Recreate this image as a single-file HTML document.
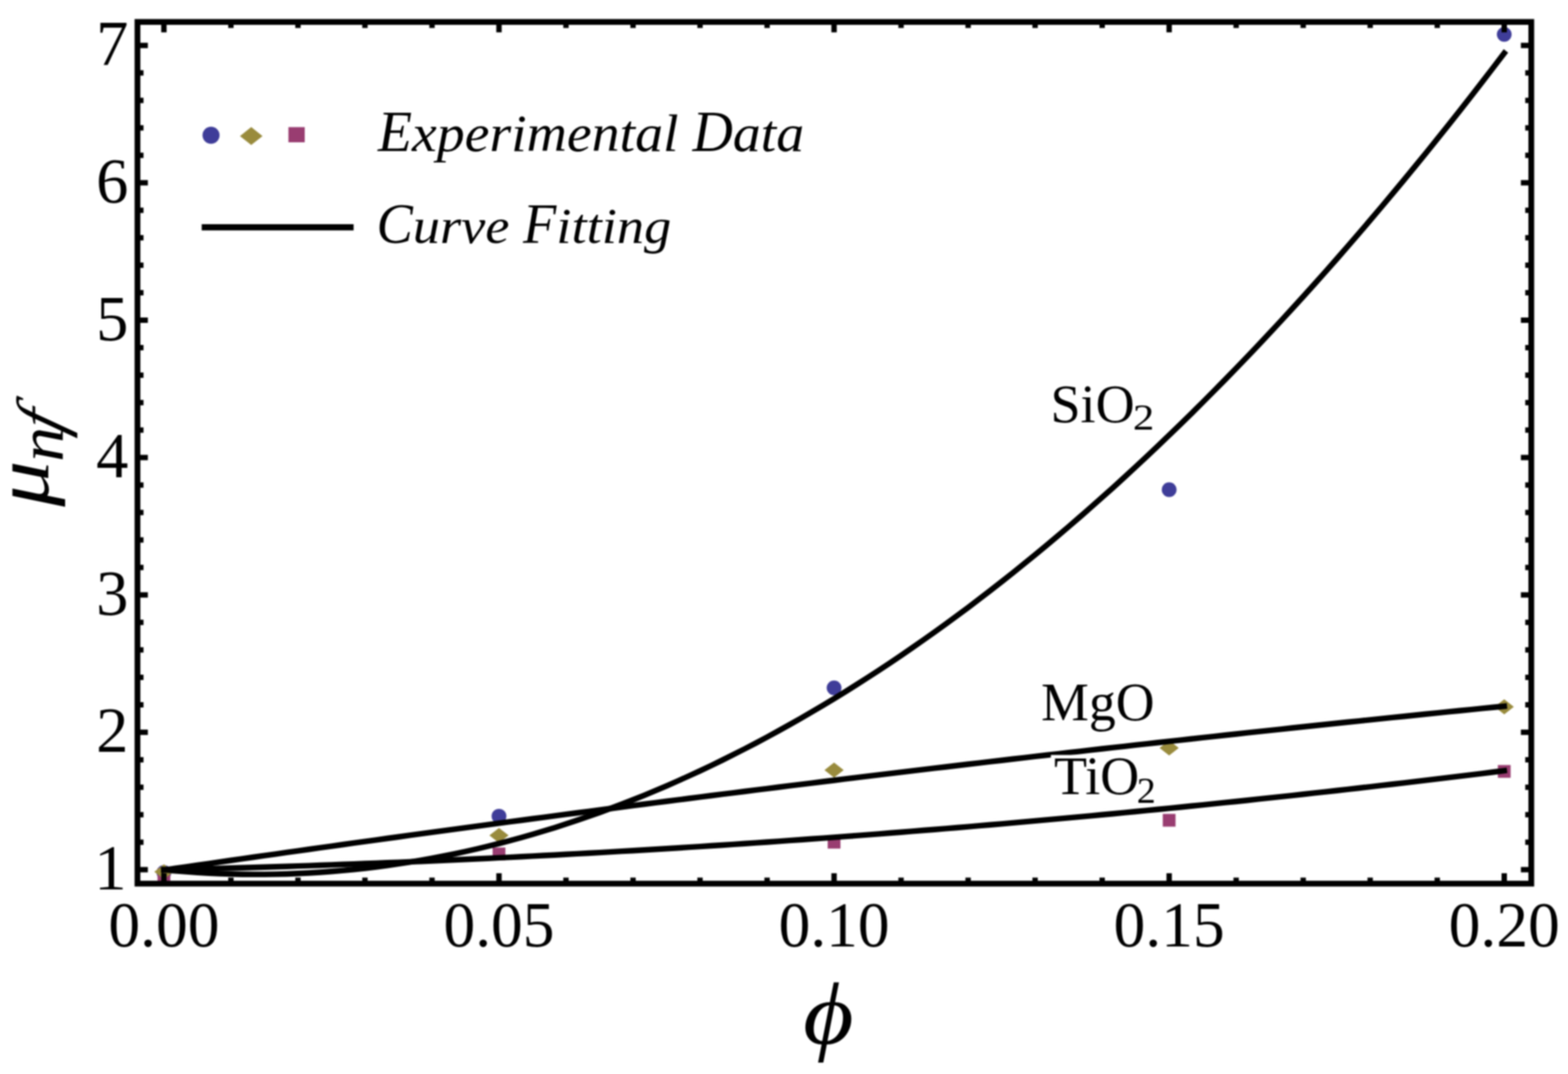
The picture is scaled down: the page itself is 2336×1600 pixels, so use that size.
<!DOCTYPE html><html><head><meta charset="utf-8"><title>Viscosity plot</title><style>html,body{margin:0;padding:0;background:#fff;}svg{display:block;filter:blur(1px);}</style></head><body>
<svg width="2336" height="1600" viewBox="0 0 2336 1600">
<rect width="2336" height="1600" fill="#fff"/>
<g>
<circle cx="244.2" cy="1299.7" r="11" fill="#3f3d99"/>
<circle cx="743.4" cy="1215.9" r="11" fill="#3f3d99"/>
<circle cx="1242.6" cy="1024.7" r="11" fill="#3f3d99"/>
<circle cx="1741.8" cy="729.5" r="11" fill="#3f3d99"/>
<circle cx="2241.0" cy="51.3" r="11" fill="#3f3d99"/>
<rect x="234.7" y="1293.5" width="19" height="19" fill="#993d71"/>
<rect x="733.9" y="1262.6" width="19" height="19" fill="#993d71"/>
<rect x="1233.1" y="1245.2" width="19" height="19" fill="#993d71"/>
<rect x="1732.3" y="1212.5" width="19" height="19" fill="#993d71"/>
<rect x="2231.5" y="1139.7" width="19" height="19" fill="#993d71"/>
<polygon points="229.9,1298.7 244.2,1287.5 258.5,1298.7 244.2,1309.9" fill="#998b3d"/>
<polygon points="729.1,1244.6 743.4,1233.4 757.7,1244.6 743.4,1255.8" fill="#998b3d"/>
<polygon points="1228.3,1147.2 1242.6,1136.0 1256.9,1147.2 1242.6,1158.4" fill="#998b3d"/>
<polygon points="1727.5,1114.3 1741.8,1103.1 1756.1,1114.3 1741.8,1125.5" fill="#998b3d"/>
<polygon points="2226.7,1053 2241.0,1041.8 2255.3,1053 2241.0,1064.2" fill="#998b3d"/>
</g>
<g fill="none" stroke="#000" stroke-width="8.4" stroke-linejoin="round" stroke-linecap="square">
<polyline points="244.20,1295.76 260.84,1295.37 277.48,1294.97 294.12,1294.55 310.76,1294.11 327.40,1293.67 344.04,1293.21 360.68,1292.73 377.32,1292.24 393.96,1291.74 410.60,1291.22 427.24,1290.69 443.88,1290.14 460.52,1289.58 477.16,1289.01 493.80,1288.42 510.44,1287.82 527.08,1287.20 543.72,1286.57 560.36,1285.92 577.00,1285.26 593.64,1284.59 610.28,1283.90 626.92,1283.20 643.56,1282.49 660.20,1281.76 676.84,1281.01 693.48,1280.26 710.12,1279.49 726.76,1278.70 743.40,1277.90 760.04,1277.09 776.68,1276.26 793.32,1275.42 809.96,1274.56 826.60,1273.69 843.24,1272.81 859.88,1271.91 876.52,1270.99 893.16,1270.07 909.80,1269.13 926.44,1268.17 943.08,1267.20 959.72,1266.22 976.36,1265.22 993.00,1264.21 1009.64,1263.19 1026.28,1262.15 1042.92,1261.09 1059.56,1260.03 1076.20,1258.94 1092.84,1257.85 1109.48,1256.74 1126.12,1255.61 1142.76,1254.48 1159.40,1253.32 1176.04,1252.16 1192.68,1250.98 1209.32,1249.78 1225.96,1248.57 1242.60,1247.35 1259.24,1246.11 1275.88,1244.86 1292.52,1243.60 1309.16,1242.32 1325.80,1241.03 1342.44,1239.72 1359.08,1238.40 1375.72,1237.06 1392.36,1235.71 1409.00,1234.35 1425.64,1232.97 1442.28,1231.58 1458.92,1230.17 1475.56,1228.75 1492.20,1227.32 1508.84,1225.87 1525.48,1224.41 1542.12,1222.93 1558.76,1221.44 1575.40,1219.94 1592.04,1218.42 1608.68,1216.89 1625.32,1215.34 1641.96,1213.78 1658.60,1212.20 1675.24,1210.61 1691.88,1209.01 1708.52,1207.39 1725.16,1205.76 1741.80,1204.12 1758.44,1202.46 1775.08,1200.78 1791.72,1199.09 1808.36,1197.39 1825.00,1195.68 1841.64,1193.95 1858.28,1192.20 1874.92,1190.44 1891.56,1188.67 1908.20,1186.89 1924.84,1185.08 1941.48,1183.27 1958.12,1181.44 1974.76,1179.60 1991.40,1177.74 2008.04,1175.87 2024.68,1173.99 2041.32,1172.09 2057.96,1170.17 2074.60,1168.25 2091.24,1166.30 2107.88,1164.35 2124.52,1162.38 2141.16,1160.39 2157.80,1158.40 2174.44,1156.38 2191.08,1154.36 2207.72,1152.32 2224.36,1150.26 2241.00,1148.20"/>
<polyline points="244.20,1296.19 260.84,1293.77 277.48,1291.36 294.12,1288.95 310.76,1286.55 327.40,1284.16 344.04,1281.77 360.68,1279.39 377.32,1277.02 393.96,1274.65 410.60,1272.29 427.24,1269.93 443.88,1267.58 460.52,1265.24 477.16,1262.90 493.80,1260.58 510.44,1258.25 527.08,1255.94 543.72,1253.63 560.36,1251.32 577.00,1249.03 593.64,1246.74 610.28,1244.45 626.92,1242.18 643.56,1239.91 660.20,1237.64 676.84,1235.38 693.48,1233.13 710.12,1230.89 726.76,1228.65 743.40,1226.42 760.04,1224.19 776.68,1221.97 793.32,1219.76 809.96,1217.56 826.60,1215.36 843.24,1213.16 859.88,1210.98 876.52,1208.80 893.16,1206.62 909.80,1204.46 926.44,1202.30 943.08,1200.14 959.72,1198.00 976.36,1195.85 993.00,1193.72 1009.64,1191.59 1026.28,1189.47 1042.92,1187.36 1059.56,1185.25 1076.20,1183.15 1092.84,1181.05 1109.48,1178.96 1126.12,1176.88 1142.76,1174.80 1159.40,1172.73 1176.04,1170.67 1192.68,1168.61 1209.32,1166.56 1225.96,1164.52 1242.60,1162.48 1259.24,1160.45 1275.88,1158.43 1292.52,1156.41 1309.16,1154.40 1325.80,1152.39 1342.44,1150.40 1359.08,1148.40 1375.72,1146.42 1392.36,1144.44 1409.00,1142.47 1425.64,1140.50 1442.28,1138.54 1458.92,1136.59 1475.56,1134.65 1492.20,1132.71 1508.84,1130.77 1525.48,1128.85 1542.12,1126.93 1558.76,1125.01 1575.40,1123.10 1592.04,1121.20 1608.68,1119.31 1625.32,1117.42 1641.96,1115.54 1658.60,1113.66 1675.24,1111.80 1691.88,1109.93 1708.52,1108.08 1725.16,1106.23 1741.80,1104.39 1758.44,1102.55 1775.08,1100.72 1791.72,1098.90 1808.36,1097.08 1825.00,1095.27 1841.64,1093.47 1858.28,1091.67 1874.92,1089.88 1891.56,1088.10 1908.20,1086.32 1924.84,1084.55 1941.48,1082.79 1958.12,1081.03 1974.76,1079.28 1991.40,1077.53 2008.04,1075.79 2024.68,1074.06 2041.32,1072.33 2057.96,1070.62 2074.60,1068.90 2091.24,1067.20 2107.88,1065.50 2124.52,1063.80 2141.16,1062.12 2157.80,1060.44 2174.44,1058.76 2191.08,1057.10 2207.72,1055.44 2224.36,1053.78 2241.00,1052.13"/>
<polyline points="244.20,1295.78 260.84,1297.32 277.48,1298.67 294.12,1299.82 310.76,1300.77 327.40,1301.52 344.04,1302.08 360.68,1302.45 377.32,1302.61 393.96,1302.58 410.60,1302.36 427.24,1301.94 443.88,1301.32 460.52,1300.50 477.16,1299.49 493.80,1298.28 510.44,1296.88 527.08,1295.28 543.72,1293.48 560.36,1291.49 577.00,1289.30 593.64,1286.92 610.28,1284.34 626.92,1281.56 643.56,1278.59 660.20,1275.42 676.84,1272.05 693.48,1268.49 710.12,1264.73 726.76,1260.77 743.40,1256.62 760.04,1252.27 776.68,1247.73 793.32,1242.99 809.96,1238.05 826.60,1232.92 843.24,1227.59 859.88,1222.06 876.52,1216.34 893.16,1210.42 909.80,1204.31 926.44,1198.00 943.08,1191.49 959.72,1184.79 976.36,1177.89 993.00,1170.79 1009.64,1163.50 1026.28,1156.01 1042.92,1148.33 1059.56,1140.45 1076.20,1132.37 1092.84,1124.10 1109.48,1115.63 1126.12,1106.96 1142.76,1098.10 1159.40,1089.04 1176.04,1079.79 1192.68,1070.33 1209.32,1060.69 1225.96,1050.84 1242.60,1040.80 1259.24,1030.57 1275.88,1020.13 1292.52,1009.51 1309.16,998.68 1325.80,987.66 1342.44,976.44 1359.08,965.03 1375.72,953.42 1392.36,941.61 1409.00,929.61 1425.64,917.41 1442.28,905.01 1458.92,892.42 1475.56,879.63 1492.20,866.65 1508.84,853.47 1525.48,840.09 1542.12,826.52 1558.76,812.75 1575.40,798.78 1592.04,784.62 1608.68,770.26 1625.32,755.71 1641.96,740.96 1658.60,726.01 1675.24,710.87 1691.88,695.53 1708.52,679.99 1725.16,664.26 1741.80,648.33 1758.44,632.21 1775.08,615.89 1791.72,599.37 1808.36,582.65 1825.00,565.74 1841.64,548.64 1858.28,531.34 1874.92,513.84 1891.56,496.14 1908.20,478.25 1924.84,460.16 1941.48,441.88 1958.12,423.40 1974.76,404.72 1991.40,385.85 2008.04,366.78 2024.68,347.52 2041.32,328.05 2057.96,308.40 2074.60,288.54 2091.24,268.49 2107.88,248.25 2124.52,227.80 2141.16,207.16 2157.80,186.33 2174.44,165.30 2191.08,144.07 2207.72,122.64 2224.36,101.02 2241.00,79.21"/>
</g>
<g stroke="#000" stroke-width="8" stroke-linecap="butt">
<line x1="244.2" y1="1316.4" x2="244.2" y2="1300.9"/>
<line x1="244.2" y1="32.7" x2="244.2" y2="48.2"/>
<line x1="344.0" y1="1316.4" x2="344.0" y2="1307.4"/>
<line x1="344.0" y1="32.7" x2="344.0" y2="41.7"/>
<line x1="443.9" y1="1316.4" x2="443.9" y2="1307.4"/>
<line x1="443.9" y1="32.7" x2="443.9" y2="41.7"/>
<line x1="543.7" y1="1316.4" x2="543.7" y2="1307.4"/>
<line x1="543.7" y1="32.7" x2="543.7" y2="41.7"/>
<line x1="643.6" y1="1316.4" x2="643.6" y2="1307.4"/>
<line x1="643.6" y1="32.7" x2="643.6" y2="41.7"/>
<line x1="743.4" y1="1316.4" x2="743.4" y2="1300.9"/>
<line x1="743.4" y1="32.7" x2="743.4" y2="48.2"/>
<line x1="843.2" y1="1316.4" x2="843.2" y2="1307.4"/>
<line x1="843.2" y1="32.7" x2="843.2" y2="41.7"/>
<line x1="943.1" y1="1316.4" x2="943.1" y2="1307.4"/>
<line x1="943.1" y1="32.7" x2="943.1" y2="41.7"/>
<line x1="1042.9" y1="1316.4" x2="1042.9" y2="1307.4"/>
<line x1="1042.9" y1="32.7" x2="1042.9" y2="41.7"/>
<line x1="1142.8" y1="1316.4" x2="1142.8" y2="1307.4"/>
<line x1="1142.8" y1="32.7" x2="1142.8" y2="41.7"/>
<line x1="1242.6" y1="1316.4" x2="1242.6" y2="1300.9"/>
<line x1="1242.6" y1="32.7" x2="1242.6" y2="48.2"/>
<line x1="1342.4" y1="1316.4" x2="1342.4" y2="1307.4"/>
<line x1="1342.4" y1="32.7" x2="1342.4" y2="41.7"/>
<line x1="1442.3" y1="1316.4" x2="1442.3" y2="1307.4"/>
<line x1="1442.3" y1="32.7" x2="1442.3" y2="41.7"/>
<line x1="1542.1" y1="1316.4" x2="1542.1" y2="1307.4"/>
<line x1="1542.1" y1="32.7" x2="1542.1" y2="41.7"/>
<line x1="1642.0" y1="1316.4" x2="1642.0" y2="1307.4"/>
<line x1="1642.0" y1="32.7" x2="1642.0" y2="41.7"/>
<line x1="1741.8" y1="1316.4" x2="1741.8" y2="1300.9"/>
<line x1="1741.8" y1="32.7" x2="1741.8" y2="48.2"/>
<line x1="1841.6" y1="1316.4" x2="1841.6" y2="1307.4"/>
<line x1="1841.6" y1="32.7" x2="1841.6" y2="41.7"/>
<line x1="1941.5" y1="1316.4" x2="1941.5" y2="1307.4"/>
<line x1="1941.5" y1="32.7" x2="1941.5" y2="41.7"/>
<line x1="2041.3" y1="1316.4" x2="2041.3" y2="1307.4"/>
<line x1="2041.3" y1="32.7" x2="2041.3" y2="41.7"/>
<line x1="2141.2" y1="1316.4" x2="2141.2" y2="1307.4"/>
<line x1="2141.2" y1="32.7" x2="2141.2" y2="41.7"/>
<line x1="2241.0" y1="1316.4" x2="2241.0" y2="1300.9"/>
<line x1="2241.0" y1="32.7" x2="2241.0" y2="48.2"/>
<line x1="204.8" y1="1295.6" x2="220.3" y2="1295.6"/>
<line x1="2281.3" y1="1295.6" x2="2265.8" y2="1295.6"/>
<line x1="204.8" y1="1254.7" x2="213.8" y2="1254.7"/>
<line x1="2281.3" y1="1254.7" x2="2272.3" y2="1254.7"/>
<line x1="204.8" y1="1213.7" x2="213.8" y2="1213.7"/>
<line x1="2281.3" y1="1213.7" x2="2272.3" y2="1213.7"/>
<line x1="204.8" y1="1172.8" x2="213.8" y2="1172.8"/>
<line x1="2281.3" y1="1172.8" x2="2272.3" y2="1172.8"/>
<line x1="204.8" y1="1131.9" x2="213.8" y2="1131.9"/>
<line x1="2281.3" y1="1131.9" x2="2272.3" y2="1131.9"/>
<line x1="204.8" y1="1090.9" x2="220.3" y2="1090.9"/>
<line x1="2281.3" y1="1090.9" x2="2265.8" y2="1090.9"/>
<line x1="204.8" y1="1050.0" x2="213.8" y2="1050.0"/>
<line x1="2281.3" y1="1050.0" x2="2272.3" y2="1050.0"/>
<line x1="204.8" y1="1009.1" x2="213.8" y2="1009.1"/>
<line x1="2281.3" y1="1009.1" x2="2272.3" y2="1009.1"/>
<line x1="204.8" y1="968.2" x2="213.8" y2="968.2"/>
<line x1="2281.3" y1="968.2" x2="2272.3" y2="968.2"/>
<line x1="204.8" y1="927.2" x2="213.8" y2="927.2"/>
<line x1="2281.3" y1="927.2" x2="2272.3" y2="927.2"/>
<line x1="204.8" y1="886.3" x2="220.3" y2="886.3"/>
<line x1="2281.3" y1="886.3" x2="2265.8" y2="886.3"/>
<line x1="204.8" y1="845.4" x2="213.8" y2="845.4"/>
<line x1="2281.3" y1="845.4" x2="2272.3" y2="845.4"/>
<line x1="204.8" y1="804.4" x2="213.8" y2="804.4"/>
<line x1="2281.3" y1="804.4" x2="2272.3" y2="804.4"/>
<line x1="204.8" y1="763.5" x2="213.8" y2="763.5"/>
<line x1="2281.3" y1="763.5" x2="2272.3" y2="763.5"/>
<line x1="204.8" y1="722.6" x2="213.8" y2="722.6"/>
<line x1="2281.3" y1="722.6" x2="2272.3" y2="722.6"/>
<line x1="204.8" y1="681.6" x2="220.3" y2="681.6"/>
<line x1="2281.3" y1="681.6" x2="2265.8" y2="681.6"/>
<line x1="204.8" y1="640.7" x2="213.8" y2="640.7"/>
<line x1="2281.3" y1="640.7" x2="2272.3" y2="640.7"/>
<line x1="204.8" y1="599.8" x2="213.8" y2="599.8"/>
<line x1="2281.3" y1="599.8" x2="2272.3" y2="599.8"/>
<line x1="204.8" y1="558.9" x2="213.8" y2="558.9"/>
<line x1="2281.3" y1="558.9" x2="2272.3" y2="558.9"/>
<line x1="204.8" y1="517.9" x2="213.8" y2="517.9"/>
<line x1="2281.3" y1="517.9" x2="2272.3" y2="517.9"/>
<line x1="204.8" y1="477.0" x2="220.3" y2="477.0"/>
<line x1="2281.3" y1="477.0" x2="2265.8" y2="477.0"/>
<line x1="204.8" y1="436.1" x2="213.8" y2="436.1"/>
<line x1="2281.3" y1="436.1" x2="2272.3" y2="436.1"/>
<line x1="204.8" y1="395.1" x2="213.8" y2="395.1"/>
<line x1="2281.3" y1="395.1" x2="2272.3" y2="395.1"/>
<line x1="204.8" y1="354.2" x2="213.8" y2="354.2"/>
<line x1="2281.3" y1="354.2" x2="2272.3" y2="354.2"/>
<line x1="204.8" y1="313.3" x2="213.8" y2="313.3"/>
<line x1="2281.3" y1="313.3" x2="2272.3" y2="313.3"/>
<line x1="204.8" y1="272.3" x2="220.3" y2="272.3"/>
<line x1="2281.3" y1="272.3" x2="2265.8" y2="272.3"/>
<line x1="204.8" y1="231.4" x2="213.8" y2="231.4"/>
<line x1="2281.3" y1="231.4" x2="2272.3" y2="231.4"/>
<line x1="204.8" y1="190.5" x2="213.8" y2="190.5"/>
<line x1="2281.3" y1="190.5" x2="2272.3" y2="190.5"/>
<line x1="204.8" y1="149.6" x2="213.8" y2="149.6"/>
<line x1="2281.3" y1="149.6" x2="2272.3" y2="149.6"/>
<line x1="204.8" y1="108.6" x2="213.8" y2="108.6"/>
<line x1="2281.3" y1="108.6" x2="2272.3" y2="108.6"/>
<line x1="204.8" y1="67.7" x2="220.3" y2="67.7"/>
<line x1="2281.3" y1="67.7" x2="2265.8" y2="67.7"/>
</g>
<rect x="204.8" y="32.7" width="2076.5" height="1283.7" fill="none" stroke="#000" stroke-width="8.6"/>
<g font-family="'Liberation Serif', serif" font-size="94.5" fill="#000">
<text x="244.2" y="1409.8" text-anchor="middle">0.00</text>
<text x="743.4" y="1409.8" text-anchor="middle">0.05</text>
<text x="1242.6" y="1409.8" text-anchor="middle">0.10</text>
<text x="1741.8" y="1409.8" text-anchor="middle">0.15</text>
<text x="2241.0" y="1409.8" text-anchor="middle">0.20</text>
</g>
<g font-family="'Liberation Serif', serif" font-size="96" fill="#000">
<text x="188.5" y="1325.1" text-anchor="end">1</text>
<text x="191.3" y="1120.4" text-anchor="end">2</text>
<text x="191.3" y="915.8" text-anchor="end">3</text>
<text x="191.3" y="711.1" text-anchor="end">4</text>
<text x="191.3" y="506.5" text-anchor="end">5</text>
<text x="191.3" y="301.8" text-anchor="end">6</text>
<text x="191.3" y="97.2" text-anchor="end">7</text>
</g>
<rect x="1565.6" y="1124.7" width="160" height="76" fill="#fff"/>
<g font-family="'Liberation Serif', serif" font-size="80.6" fill="#000">
<text x="1565" y="628.7">SiO</text><text transform="translate(1687.8,640.1) scale(1.16,1)" font-size="55">2</text>
<text x="1551" y="1073.2" textLength="169" lengthAdjust="spacingAndGlyphs">MgO</text>
<text x="1570.3" y="1182.9">TiO</text><text transform="translate(1693.4,1195.7) scale(1.05,1)" font-size="54">2</text>
</g>
<circle cx="314.4" cy="201.5" r="12.7" fill="#3f3d99"/>
<polygon points="357.5,202.7 374.3,189.3 391.1,202.7 374.3,216.1" fill="#998b3d"/>
<rect x="429.7" y="189.4" width="24.3" height="22.6" fill="#993d71"/>
<line x1="300.5" y1="338.6" x2="526.8" y2="338.6" stroke="#000" stroke-width="9.1"/>
<g font-family="'Liberation Serif', serif" font-style="italic" fill="#000">
<text transform="translate(563,225) scale(0.9668,1)" font-size="86">E</text>
<text transform="translate(613.79,225) scale(0.9668,0.92)" font-size="86">xperimental</text>
<text transform="translate(1031.7,225) scale(0.9668,1)" font-size="86">D</text>
<text transform="translate(1091.74,225) scale(0.9668,0.92)" font-size="86">ata</text>
<text transform="translate(561,361.7) scale(0.9649,1)" font-size="84">C</text>
<text transform="translate(615.05,361.7) scale(0.9649,0.87)" font-size="84">urve</text>
<text transform="translate(779.35,361.7) scale(0.9649,1)" font-size="84">F</text>
<text transform="translate(828.86,361.7) scale(0.9649,0.87)" font-size="84">itting</text>
</g>
<g transform="translate(1234,1555) scale(1.1,1)"><text x="0" y="0" font-family="'Liberation Serif', serif" font-style="italic" font-size="132" text-anchor="middle">ϕ</text></g>
<g transform="translate(72.0,754.8) rotate(-90) scale(1.178,1)"><text x="0" y="0" font-family="'Liberation Serif', serif" font-style="italic" font-size="115.75">μ</text></g>
<g transform="translate(94.3,688.05) rotate(-90) scale(1.099,1)"><text x="0" y="0" font-family="'Liberation Serif', serif" font-style="italic" font-size="94.9">n</text></g>
<g transform="translate(93.8,647.9) rotate(-90) skewX(-16)"><text x="0" y="0" font-family="'Liberation Serif', serif" font-style="italic" font-size="99.3">f</text></g>
</svg></body></html>
